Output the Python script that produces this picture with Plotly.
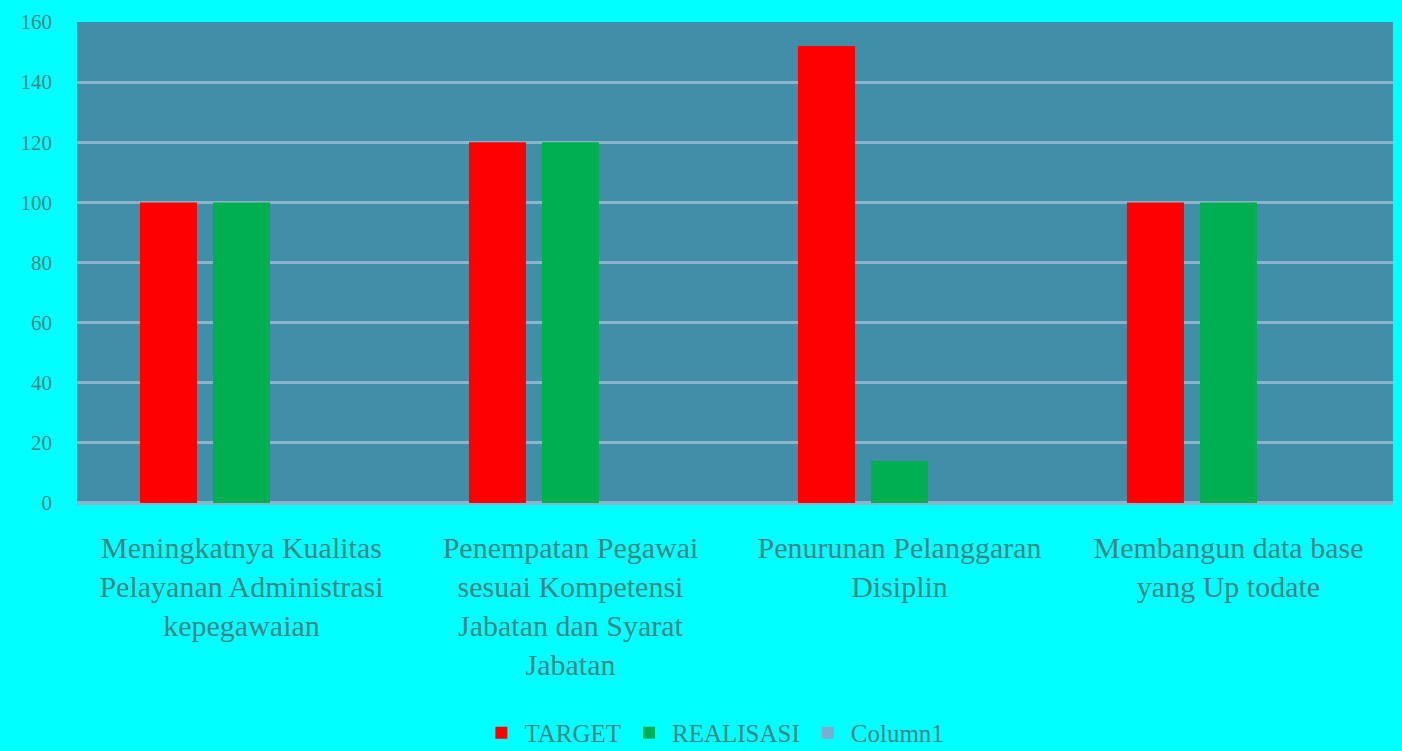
import plotly.graph_objects as go

categories = [
    "Meningkatnya Kualitas<br>Pelayanan Administrasi<br>kepegawaian",
    "Penempatan Pegawai<br>sesuai Kompetensi<br>Jabatan dan Syarat<br>Jabatan",
    "Penurunan Pelanggaran<br>Disiplin",
    "Membangun data base<br>yang Up todate",
]
target = [100, 120, 152, 100]
realisasi = [100, 120, 14, 100]
column1 = [0, 0, 0, 0]

text_color = "#3d8585"
font_family = "Liberation Serif, DejaVu Serif, serif"

fig = go.Figure()
fig.add_trace(go.Bar(x=categories, y=target, name="TARGET", marker_color="#ff0000",
                     marker_line=dict(width=0)))
fig.add_trace(go.Bar(x=categories, y=realisasi, name="REALISASI", marker_color="#00b050",
                     marker_line=dict(width=0)))
fig.add_trace(go.Bar(x=categories, y=column1, name="Column1", marker_color="#7aaed0",
                     marker_line=dict(width=0)))

fig.update_layout(
    width=1402, height=751,
    margin=dict(l=77, r=9, t=22, b=248, autoexpand=False),
    paper_bgcolor="#00ffff",
    plot_bgcolor="#408ea8",
    barmode="group",
    bargap=0.334,
    bargroupgap=0.22,
    font=dict(family=font_family, color=text_color, size=22),
    showlegend=True,
    legend=dict(orientation="h", x=0.305, xanchor="left", y=-0.478, yanchor="middle",
                font=dict(size=25, color=text_color), bgcolor="rgba(0,0,0,0)",
                itemwidth=36, tracegroupgap=0),
    xaxis=dict(showgrid=False, ticks="", ticklabelstandoff=24, automargin=False,
               tickfont=dict(size=30, color=text_color), showline=False),
    yaxis=dict(range=[0, 160], dtick=20, showgrid=True, gridcolor="#8ab4cc", gridwidth=3,
               zeroline=True, zerolinecolor="#8ab4cc", zerolinewidth=4, automargin=False,
               ticklabelstandoff=24, tickfont=dict(size=21, color=text_color)),
)

fig.write_html("out.html")
